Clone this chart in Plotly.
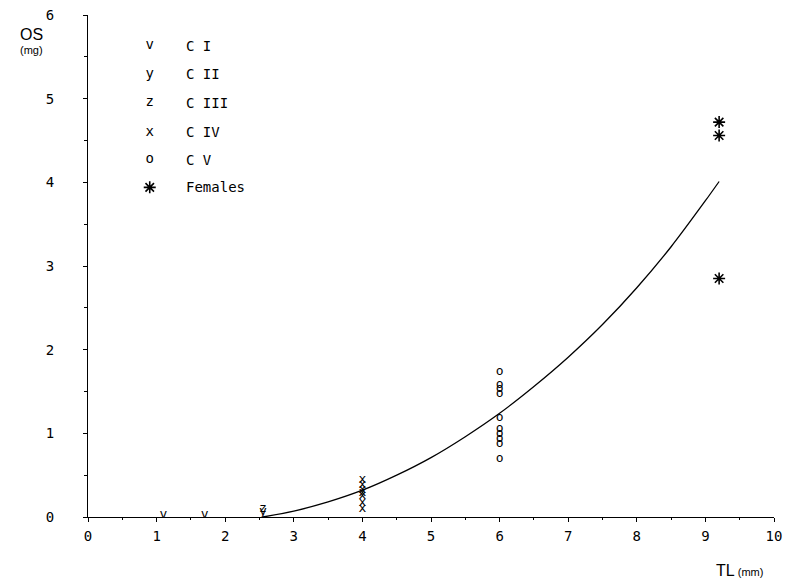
import plotly.graph_objects as go

# ---- data ----
ci_x = [1.1, 1.7]
ci_y = [0.03, 0.03]
cii_x = [2.55]
cii_y = [0.06]
ciii_x = [2.55]
ciii_y = [0.10]
civ_x = [4.0, 4.0, 4.0, 4.0, 4.0, 4.0, 4.0]
civ_y = [0.44, 0.38, 0.33, 0.29, 0.25, 0.17, 0.10]
cv_x = [6.0] * 10
cv_y = [1.74, 1.58, 1.53, 1.47, 1.19, 1.06, 1.00, 0.94, 0.87, 0.70]
fem_x = [9.2, 9.2, 9.2]
fem_y = [4.72, 4.56, 2.85]

curve_x = [2.55, 3.0, 3.5, 4.0, 4.5, 5.0, 5.5, 6.0, 6.5, 7.0, 7.5, 8.0, 8.5, 9.0, 9.2]
curve_y = [0.0, 0.07, 0.18, 0.32, 0.50, 0.71, 0.96, 1.24, 1.56, 1.91, 2.30, 2.74, 3.23, 3.78, 4.01]

legend_symbols = ["v", "y", "z", "x", "o", "*"]
legend_labels = ["C I", "C II", "C III", "C IV", "C V", "Females"]
legend_y = [5.63, 5.29, 4.95, 4.60, 4.27, 3.94]
legend_sym_x = 0.9
legend_lab_x = 1.40

x_ticks = list(range(0, 11))
y_ticks = list(range(0, 7))

mono = "DejaVu Sans Mono"
sans = "Liberation Sans"

fig = go.Figure()

fig.add_trace(go.Scatter(x=curve_x, y=curve_y, mode="lines",
                         line=dict(color="black", width=1.3, shape="spline", smoothing=0.8),
                         hoverinfo="skip"))

def text_series(xs, ys, ch):
    fig.add_trace(go.Scatter(x=xs, y=ys, mode="text", text=[ch] * len(xs),
                             textposition="middle center",
                             textfont=dict(family=mono, size=13, color="black")))

text_series(ci_x, ci_y, "v")
text_series(cii_x, cii_y, "y")
text_series(ciii_x, ciii_y, "z")
text_series(civ_x, civ_y, "x")
text_series(cv_x, cv_y, "o")

asterisk = dict(symbol="asterisk-open", size=10, color="black",
                line=dict(color="black", width=1.6))
fig.add_trace(go.Scatter(x=fem_x, y=fem_y, mode="markers", marker=asterisk))

# legend symbols (letters as text, asterisk as the same marker as the data)
fig.add_trace(go.Scatter(x=[legend_sym_x] * 5, y=legend_y[:5], mode="text",
                         text=legend_symbols[:5], textposition="middle center",
                         textfont=dict(family=mono, size=14, color="black")))
fig.add_trace(go.Scatter(x=[legend_sym_x], y=legend_y[5:], mode="markers", marker=asterisk))

annotations = []
for lab, yy in zip(legend_labels, legend_y):
    annotations.append(dict(x=legend_lab_x, y=yy, xref="x", yref="y", text=lab, showarrow=False,
                            xanchor="left", yanchor="middle",
                            font=dict(family=mono, size=14, color="black")))

annotations += [
    dict(xref="paper", yref="paper", x=-0.082, y=0.962, text="OS", showarrow=False,
         xanchor="center", yanchor="middle", font=dict(family=sans, size=16, color="black")),
    dict(xref="paper", yref="paper", x=-0.082, y=0.930, text="(mg)", showarrow=False,
         xanchor="center", yanchor="middle", font=dict(family=sans, size=11, color="black")),
    dict(xref="paper", yref="paper", x=0.95, y=-0.106,
         text="TL<span style='font-size:11px'> (mm)</span>",
         showarrow=False, xanchor="center", yanchor="middle",
         font=dict(family=sans, size=16, color="black")),
]

# page body has an 8px margin, so the figure is sized to fit the 792x582 window
fig.update_layout(
    width=784, height=574,
    margin=dict(l=80, r=18, t=7, b=65, autoexpand=False),
    paper_bgcolor="white", plot_bgcolor="white",
    showlegend=False,
    annotations=annotations,
    xaxis=dict(range=[0, 10], tickvals=x_ticks, ticktext=[str(v) for v in x_ticks],
               automargin=False, ticklabeloverflow="allow",
               showline=True, linecolor="black", linewidth=1, showgrid=False, zeroline=False,
               ticks="outside", ticklen=4, tickcolor="black",
               minor=dict(ticks="outside", ticklen=2, dtick=0.5, tickcolor="black", showgrid=False),
               tickfont=dict(family=mono, size=14, color="black"), ticklabelstandoff=2),
    yaxis=dict(range=[0, 6], tickvals=y_ticks, ticktext=[str(v) for v in y_ticks],
               automargin=False, ticklabeloverflow="allow",
               showline=True, linecolor="black", linewidth=1, showgrid=False, zeroline=False,
               ticks="outside", ticklen=4, tickcolor="black",
               minor=dict(ticks="outside", ticklen=3, dtick=0.5, tickcolor="black", showgrid=False),
               tickfont=dict(family=mono, size=14, color="black"), ticklabelstandoff=26),
)

fig.write_html("out.html")
